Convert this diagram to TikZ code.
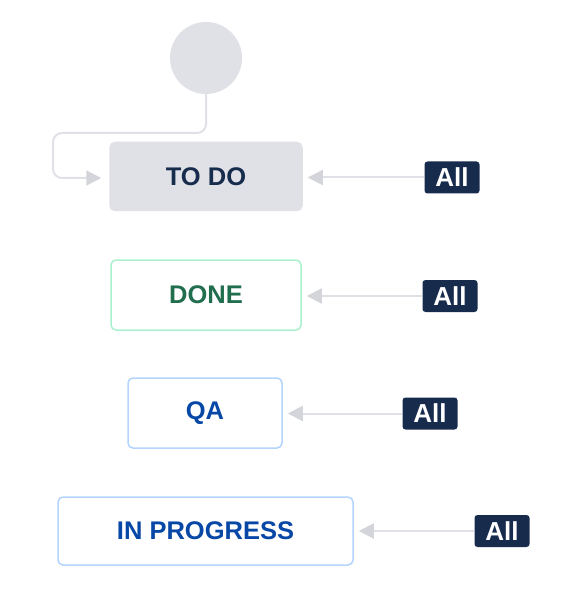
\documentclass[tikz,border=0pt]{standalone}
\usepackage{fontspec}
\setmainfont{Liberation Sans}
\usetikzlibrary{arrows.meta}
\definecolor{navy}{HTML}{172B4D}
\definecolor{lgray}{HTML}{DFE1E6}
\definecolor{agray}{HTML}{D3D5DA}
\definecolor{dgreen}{HTML}{216E4E}
\definecolor{lgreen}{HTML}{ABF0CD}
\definecolor{dblue}{HTML}{0747A6}
\definecolor{lblue}{HTML}{B3D4FF}
\begin{document}
\begin{tikzpicture}[x=1pt,y=-1pt,
  status/.style={rounded corners=5pt, line width=1.5pt, minimum height=68pt,
    font=\fontsize{25.5}{27}\selectfont\bfseries, inner sep=0pt},
  badge/.style={fill=navy, text=white, rounded corners=3pt, minimum width=55pt,
    minimum height=32pt, inner sep=0pt, font=\fontsize{26}{27}\selectfont\bfseries},
  conn/.style={draw=lgray, line width=2pt,
    -{Triangle[length=15pt,width=15pt,fill=agray,color=agray]}}
]
\useasboundingbox (0,0) rectangle (560,612);
\node[circle, fill=lgray, minimum size=72pt, inner sep=0pt] (start) at (206,58) {};
\node[status, fill=lgray, draw=lgray, text=navy, minimum width=192pt] (todo) at (206,176.5) {TO DO};
\node[status, fill=white, draw=lgreen, text=dgreen, minimum width=190pt, minimum height=70pt] (done) at (206,295) {DONE};
\node[status, fill=white, draw=lblue, text=dblue, minimum width=154pt, minimum height=70pt] (qa) at (205,413) {QA};
\node[status, fill=white, draw=lblue, text=dblue, minimum width=295pt] (inprog) at (205.5,531) {IN PROGRESS};
\node[badge] (b1) at (452,177.5) {All};
\node[badge] (b2) at (450,296) {All};
\node[badge] (b3) at (430,413.5) {All};
\node[badge] (b4) at (502,531) {All};
\coordinate (c1) at (206,133);
\coordinate (c2) at (53,133);
\coordinate (c3) at (53,178);
\draw[conn, rounded corners=9pt, shorten >=8pt] (start.south) -- (c1) -- (c2) -- (c3) -- (todo.west |- c3);
\draw[conn, shorten >=5pt] (b1.west) -- (todo.east |- b1.west);
\draw[conn, shorten >=5pt] (b2.west) -- (done.east |- b2.west);
\draw[conn, shorten >=5pt] (b3.west) -- (qa.east |- b3.west);
\draw[conn, shorten >=5pt] (b4.west) -- (inprog.east |- b4.west);
\end{tikzpicture}
\end{document}
